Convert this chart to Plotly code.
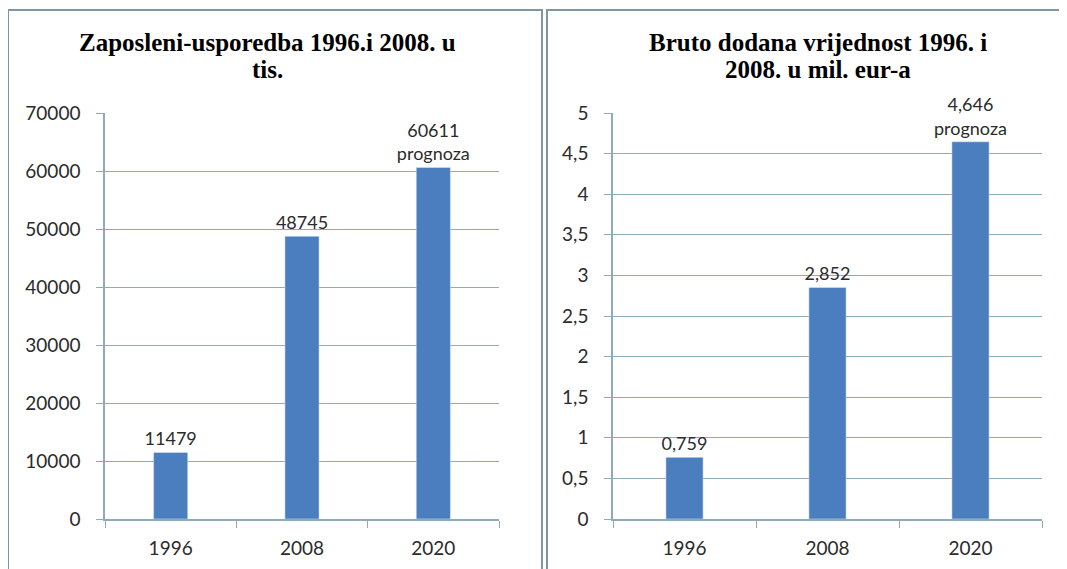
import plotly.graph_objects as go

# podaci
godine = ["1996", "2008", "2020"]
zaposleni = [11479, 48745, 60611]
bdv = [0.759, 2.852, 4.646]
napomene = ["", "", "prognoza"]
naslov_lijevo = ["Zaposleni-usporedba 1996.i 2008. u", "tis."]
naslov_desno = ["Bruto dodana vrijednost 1996. i", "2008. u mil. eur-a"]

W, H = 1067, 569
OFF = 8  # body margin u html stranici
PLAVA = "#4A7EBF"
MREZA = "#8FAABB"
TEKST = "#2b2b2b"


def px_x(v):
    return (v - OFF) / W


def px_y(v):
    return 1 - (v - OFF) / H


txt_lijevo = [f"{v}" + (f"<br>{n}" if n else "") for v, n in zip(zaposleni, napomene)]
txt_desno = [f"{v:.3f}".replace(".", ",") + (f"<br>{n}" if n else "") for v, n in zip(bdv, napomene)]

fig = go.Figure()
for xs, ys, txt, ax, ay in [(godine, zaposleni, txt_lijevo, "x", "y"),
                            (godine, bdv, txt_desno, "x2", "y2")]:
    fig.add_trace(go.Bar(x=xs, y=ys, text=txt, textposition="outside",
                         constraintext="none", marker_color=PLAVA, width=0.26,
                         cliponaxis=False,
                         textfont=dict(family="Lato", size=18, color=TEKST),
                         xaxis=ax, yaxis=ay))

os_x = dict(type="category", showgrid=False, showline=True, linecolor=MREZA, linewidth=1.5,
            ticks="outside", tickson="boundaries", ticklen=7, tickcolor=MREZA,
            automargin=False,
            tickfont=dict(family="Lato", size=19, color=TEKST), ticklabelstandoff=11)
os_y = dict(showgrid=True, gridcolor=MREZA, gridwidth=1.2, showline=True, linecolor=MREZA,
            linewidth=1.5, ticks="outside", ticklen=7, tickcolor=MREZA, zeroline=False,
            automargin=False,
            tickfont=dict(family="Lato", size=19, color=TEKST), ticklabelstandoff=12)

fig.update_layout(
    width=W, height=H,
    margin=dict(l=0, r=0, t=0, b=0, pad=0),
    paper_bgcolor="white", plot_bgcolor="white",
    separators=",.",
    showlegend=False,
    xaxis=dict(os_x, domain=[px_x(105), px_x(499)], anchor="y"),
    yaxis=dict(os_y, domain=[px_y(519), px_y(113)], range=[0, 70000], dtick=10000,
               tickformat="d", anchor="x"),
    xaxis2=dict(os_x, domain=[px_x(613), px_x(1042)], anchor="y2"),
    yaxis2=dict(os_y, domain=[px_y(519), px_y(113)], range=[0, 5], dtick=0.5, anchor="x2"),
)

naslov_font = dict(family="Liberation Serif", size=25, color="black")
for cx, redovi in [(267, naslov_lijevo), (818, naslov_desno)]:
    for red, cy in zip(redovi, [42, 70]):
        fig.add_annotation(text=f"<b>{red}</b>", x=px_x(cx), y=px_y(cy),
                           xref="paper", yref="paper", xanchor="center", yanchor="middle",
                           showarrow=False, font=naslov_font)

# okviri
okvir = dict(color="#7E97A3", width=2)
fig.add_shape(type="rect", xref="paper", yref="paper", x0=px_x(8), x1=px_x(542),
              y0=px_y(590), y1=px_y(10), line=okvir)
fig.add_shape(type="rect", xref="paper", yref="paper", x0=px_x(547), x1=px_x(1090),
              y0=px_y(590), y1=px_y(10), line=okvir)

fig.write_html("out.html")
